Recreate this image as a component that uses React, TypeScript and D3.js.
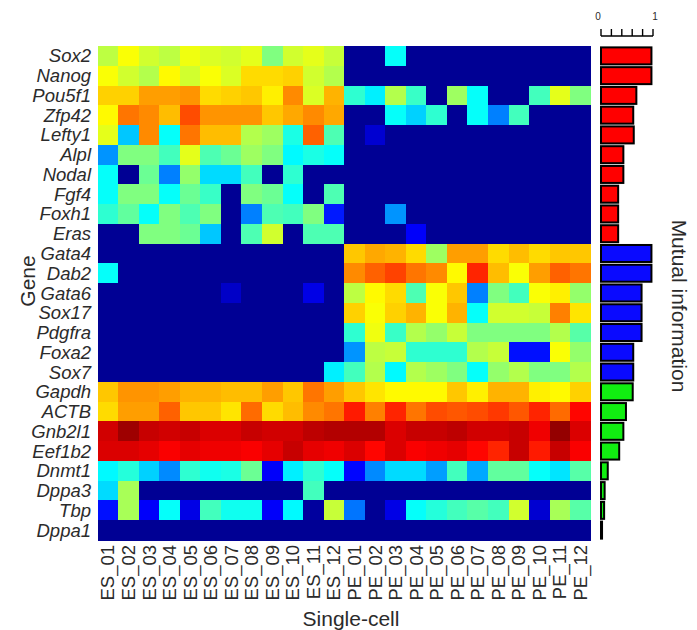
import React from "react";
import * as d3 from "d3";

const n = 0.02;

const cells = [
  "ES_01","ES_02","ES_03","ES_04","ES_05","ES_06","ES_07","ES_08","ES_09","ES_10","ES_11","ES_12",
  "PE_01","PE_02","PE_03","PE_04","PE_05","PE_06","PE_07","PE_08","PE_09","PE_10","PE_11","PE_12",
];

const esGenes = ["Sox2","Nanog","Pou5f1","Zfp42","Lefty1","Alpl","Nodal","Fgf4","Foxh1","Eras"];
const esRows = [
  [0.56,0.62,0.58,0.56,0.61,0.59,0.58,0.6,0.5,0.58,0.6,0.57, n,n,0.38,n,n,n,n,n,n,n,n,n],
  [0.62,0.58,0.55,0.63,0.58,0.62,0.59,0.66,0.66,0.67,0.58,0.55, n,n,n,n,n,n,n,n,n,n,n,n],
  [0.67,0.67,0.72,0.72,0.73,0.66,0.67,0.68,0.64,0.74,0.59,0.7, 0.42,0.36,0.55,0.43,n,0.53,0.38,n,n,0.44,0.6,0.5],
  [0.63,0.76,0.74,0.69,0.8,0.73,0.73,0.73,0.68,0.71,0.74,0.71, n,n,0.38,0.33,0.42,n,0.38,0.25,0.44,n,n,n],
  [0.6,0.32,0.74,0.38,0.76,0.69,0.69,0.55,0.53,0.4,0.78,0.45, n,0.08,n,n,n,n,n,n,n,n,n,n],
  [0.27,0.5,0.5,0.44,0.6,0.45,0.48,0.53,0.5,0.37,0.4,0.38, n,n,n,n,n,n,n,n,n,n,n,n],
  [0.38,n,0.48,0.25,0.52,0.34,0.34,0.44,n,0.42,n,n, n,n,n,n,n,n,n,n,n,n,n,n],
  [0.38,0.5,0.5,0.38,0.48,0.43,n,0.5,0.48,0.38,n,0.45, n,n,n,n,n,n,n,n,n,n,n,n],
  [0.42,0.47,0.38,0.5,0.45,0.5,n,0.25,0.45,0.44,0.5,0.15, n,n,0.27,n,n,n,n,n,n,n,n,n],
  [n,n,0.5,0.5,0.48,0.32,n,0.45,0.58,n,0.45,0.45, n,n,n,0.12,n,n,n,n,n,n,n,n],
];

const peGenes = ["Gata4","Dab2","Gata6","Sox17","Pdgfra","Foxa2","Sox7"];
const peRows = [
  [n,n,n,n,n,n,n,n,n,n,n,n, 0.68,0.71,0.7,0.66,0.53,0.72,0.72,0.66,0.69,0.66,0.68,0.68],
  [0.38,n,n,n,n,n,n,n,n,n,n,n, 0.74,0.78,0.81,0.76,0.74,0.63,0.84,0.69,0.62,0.72,0.78,0.76],
  [n,n,n,n,n,n,0.07,n,n,n,0.1,n, 0.56,0.63,0.66,0.45,0.62,0.68,0.25,0.5,0.44,0.62,0.64,0.52],
  [n,n,n,n,n,n,n,n,n,n,n,n, 0.67,0.62,0.67,0.7,0.62,0.7,0.38,0.58,0.58,0.57,0.75,0.65],
  [n,n,n,n,n,n,n,n,n,n,n,n, 0.42,0.61,0.43,0.55,0.52,0.57,0.5,0.5,0.5,0.5,0.55,0.46],
  [n,n,n,n,n,n,n,n,n,n,n,n, 0.27,0.56,0.57,0.42,0.42,0.42,0.55,0.57,0.14,0.14,0.62,0.52],
  [n,n,n,n,n,n,n,n,n,n,n,0.36, 0.44,0.55,0.37,0.55,0.53,0.5,0.38,0.52,0.55,0.5,0.5,0.55],
];

const hkGenes = ["Gapdh","ACTB","Gnb2l1","Eef1b2","Dnmt1","Dppa3","Tbp","Dppa1"];
const hkRows = [
  [0.68,0.73,0.73,0.72,0.7,0.7,0.69,0.69,0.72,0.68,0.76,0.72, 0.68,0.65,0.63,0.63,0.63,0.68,0.64,0.7,0.7,0.64,0.63,0.67],
  [0.66,0.72,0.72,0.78,0.68,0.68,0.65,0.77,0.66,0.69,0.74,0.76, 0.85,0.75,0.84,0.76,0.8,0.79,0.8,0.82,0.79,0.84,0.77,0.87],
  [0.92,0.97,0.93,0.92,0.93,0.91,0.91,0.93,0.92,0.92,0.94,0.95, 0.95,0.95,0.91,0.93,0.93,0.94,0.92,0.92,0.93,0.89,0.98,0.91],
  [0.91,0.91,0.9,0.88,0.9,0.89,0.89,0.88,0.9,0.93,0.9,0.89, 0.91,0.87,0.91,0.88,0.89,0.9,0.87,0.84,0.93,0.85,0.93,0.88],
  [0.37,0.41,0.33,0.26,0.42,0.39,0.4,0.48,0.12,0.36,0.42,0.38, 0.13,0.26,0.34,0.34,0.28,0.44,0.29,0.47,0.47,0.38,0.35,0.46],
  [0.34,0.54,n,n,n,n,n,n,n,n,0.44,n, n,n,n,n,n,n,n,n,n,n,n,n],
  [0.14,0.54,0.12,0.38,0.1,0.44,0.39,0.39,0.12,0.37,0.03,0.57, 0.24,n,0.1,0.38,0.41,0.44,0.46,0.44,0.58,0.08,0.54,0.46],
  [n,n,n,n,n,n,n,n,n,n,n,n, n,n,n,n,n,n,n,n,n,n,n,n],
];

const esMI = [0.97,0.97,0.68,0.62,0.63,0.43,0.43,0.33,0.33,0.33];
const peMI = [0.97,0.97,0.78,0.78,0.78,0.62,0.62];
const hkMI = [0.61,0.48,0.43,0.35,0.13,0.07,0.06,0.02];

const groupColors = ["#ff0000", "#0a0aff", "#11ee11"];
const miTicks = [0, 0.2, 0.4, 0.6, 0.8, 1];

const genes = [...esGenes, ...peGenes, ...hkGenes];
const rows = [...esRows, ...peRows, ...hkRows];
const mi = [...esMI, ...peMI, ...hkMI];
const barColor = [
  ...esGenes.map(() => groupColors[0]),
  ...peGenes.map(() => groupColors[1]),
  ...hkGenes.map(() => groupColors[2]),
];

const jet = d3
  .scaleLinear<string>()
  .domain([0, 0.125, 0.375, 0.625, 0.875, 1])
  .range(["#000080", "#0000ff", "#00ffff", "#ffff00", "#ff0000", "#800000"])
  .clamp(true);

const W = 697;
const H = 630;
const FONT = "'Liberation Sans', Arial, Helvetica, sans-serif";
const TXT = "#2b2b2b";

export default function App() {
  const x = d3.scaleBand<string>().domain(cells).range([97.7, 590.7]);
  const y = d3.scaleBand<string>().domain(genes).range([46, 540]);
  const yBar = d3.scaleBand<string>().domain(genes).range([46, 540]).paddingInner(0.14).paddingOuter(0.07);
  const xBar = d3.scaleLinear().domain([0, 1]).range([601, 653]);

  return (
    <div style={{ position: "absolute", left: 0, top: 0 }}>
      <svg width={W} height={H} style={{ display: "block", background: "#fff" }}>
        {/* heatmap */}
        <g shapeRendering="crispEdges">
          {rows.map((r, i) =>
            r.map((v, j) => (
              <rect
                key={`${i}-${j}`}
                x={x(cells[j])}
                y={y(genes[i])}
                width={x.bandwidth() + 0.5}
                height={y.bandwidth() + 0.5}
                fill={jet(v)}
              />
            ))
          )}
        </g>
        {/* gene labels */}
        {genes.map((g) => (
          <text
            key={g}
            x={91}
            y={(y(g) as number) + y.bandwidth() / 2}
            textAnchor="end"
            dominantBaseline="central"
            fontFamily={FONT}
            fontStyle="italic"
            fontSize={18.5}
            fill={TXT}
          >
            {g}
          </text>
        ))}
        {/* cell labels */}
        {cells.map((c) => {
          const cx = (x(c) as number) + x.bandwidth() / 2;
          const ty = 545;
          return (
            <text
              key={c}
              transform={`translate(${cx},${ty}) rotate(-90)`}
              textAnchor="end"
              dominantBaseline="central"
              fontFamily={FONT}
              fontSize={18.5}
              fill={TXT}
            >
              {c}
            </text>
          );
        })}
        <text
          x={351}
          y={626}
          textAnchor="middle"
          fontFamily={FONT}
          fontSize={21}
          fill={TXT}
        >
          Single-cell
        </text>
        <text
          transform={`translate(27,281) rotate(-90)`}
          textAnchor="middle"
          dominantBaseline="central"
          fontFamily={FONT}
          fontSize={21}
          fill={TXT}
        >
          Gene
        </text>
        <text
          transform={`translate(679,306) rotate(90)`}
          textAnchor="middle"
          dominantBaseline="central"
          fontFamily={FONT}
          fontSize={21}
          fill={TXT}
        >
          Mutual information
        </text>
        {/* MI bars */}
        {genes.map((g, i) => (
          <rect
            key={`bar-${g}`}
            x={xBar(0)}
            y={yBar(g)}
            width={Math.max(0.5, xBar(mi[i]) - xBar(0))}
            height={yBar.bandwidth()}
            fill={barColor[i]}
            stroke="#000"
            strokeWidth={2}
          />
        ))}
        {/* MI axis */}
        <line x1={xBar(0)} x2={xBar(1)} y1={36} y2={36} stroke="#000" strokeWidth={1.6} />
        {miTicks.map((t) => (
          <line key={`t${t}`} x1={xBar(t)} x2={xBar(t)} y1={36} y2={29} stroke="#000" strokeWidth={1.4} />
        ))}
        {[0, 1].map((t) => (
          <text
            key={`tl${t}`}
            x={xBar(t) + (t === 0 ? -3 : 2)}
            y={20}
            textAnchor="middle"
            fontFamily={FONT}
            fontSize={10}
            fill={TXT}
          >
            {t}
          </text>
        ))}
      </svg>
    </div>
  );
}
